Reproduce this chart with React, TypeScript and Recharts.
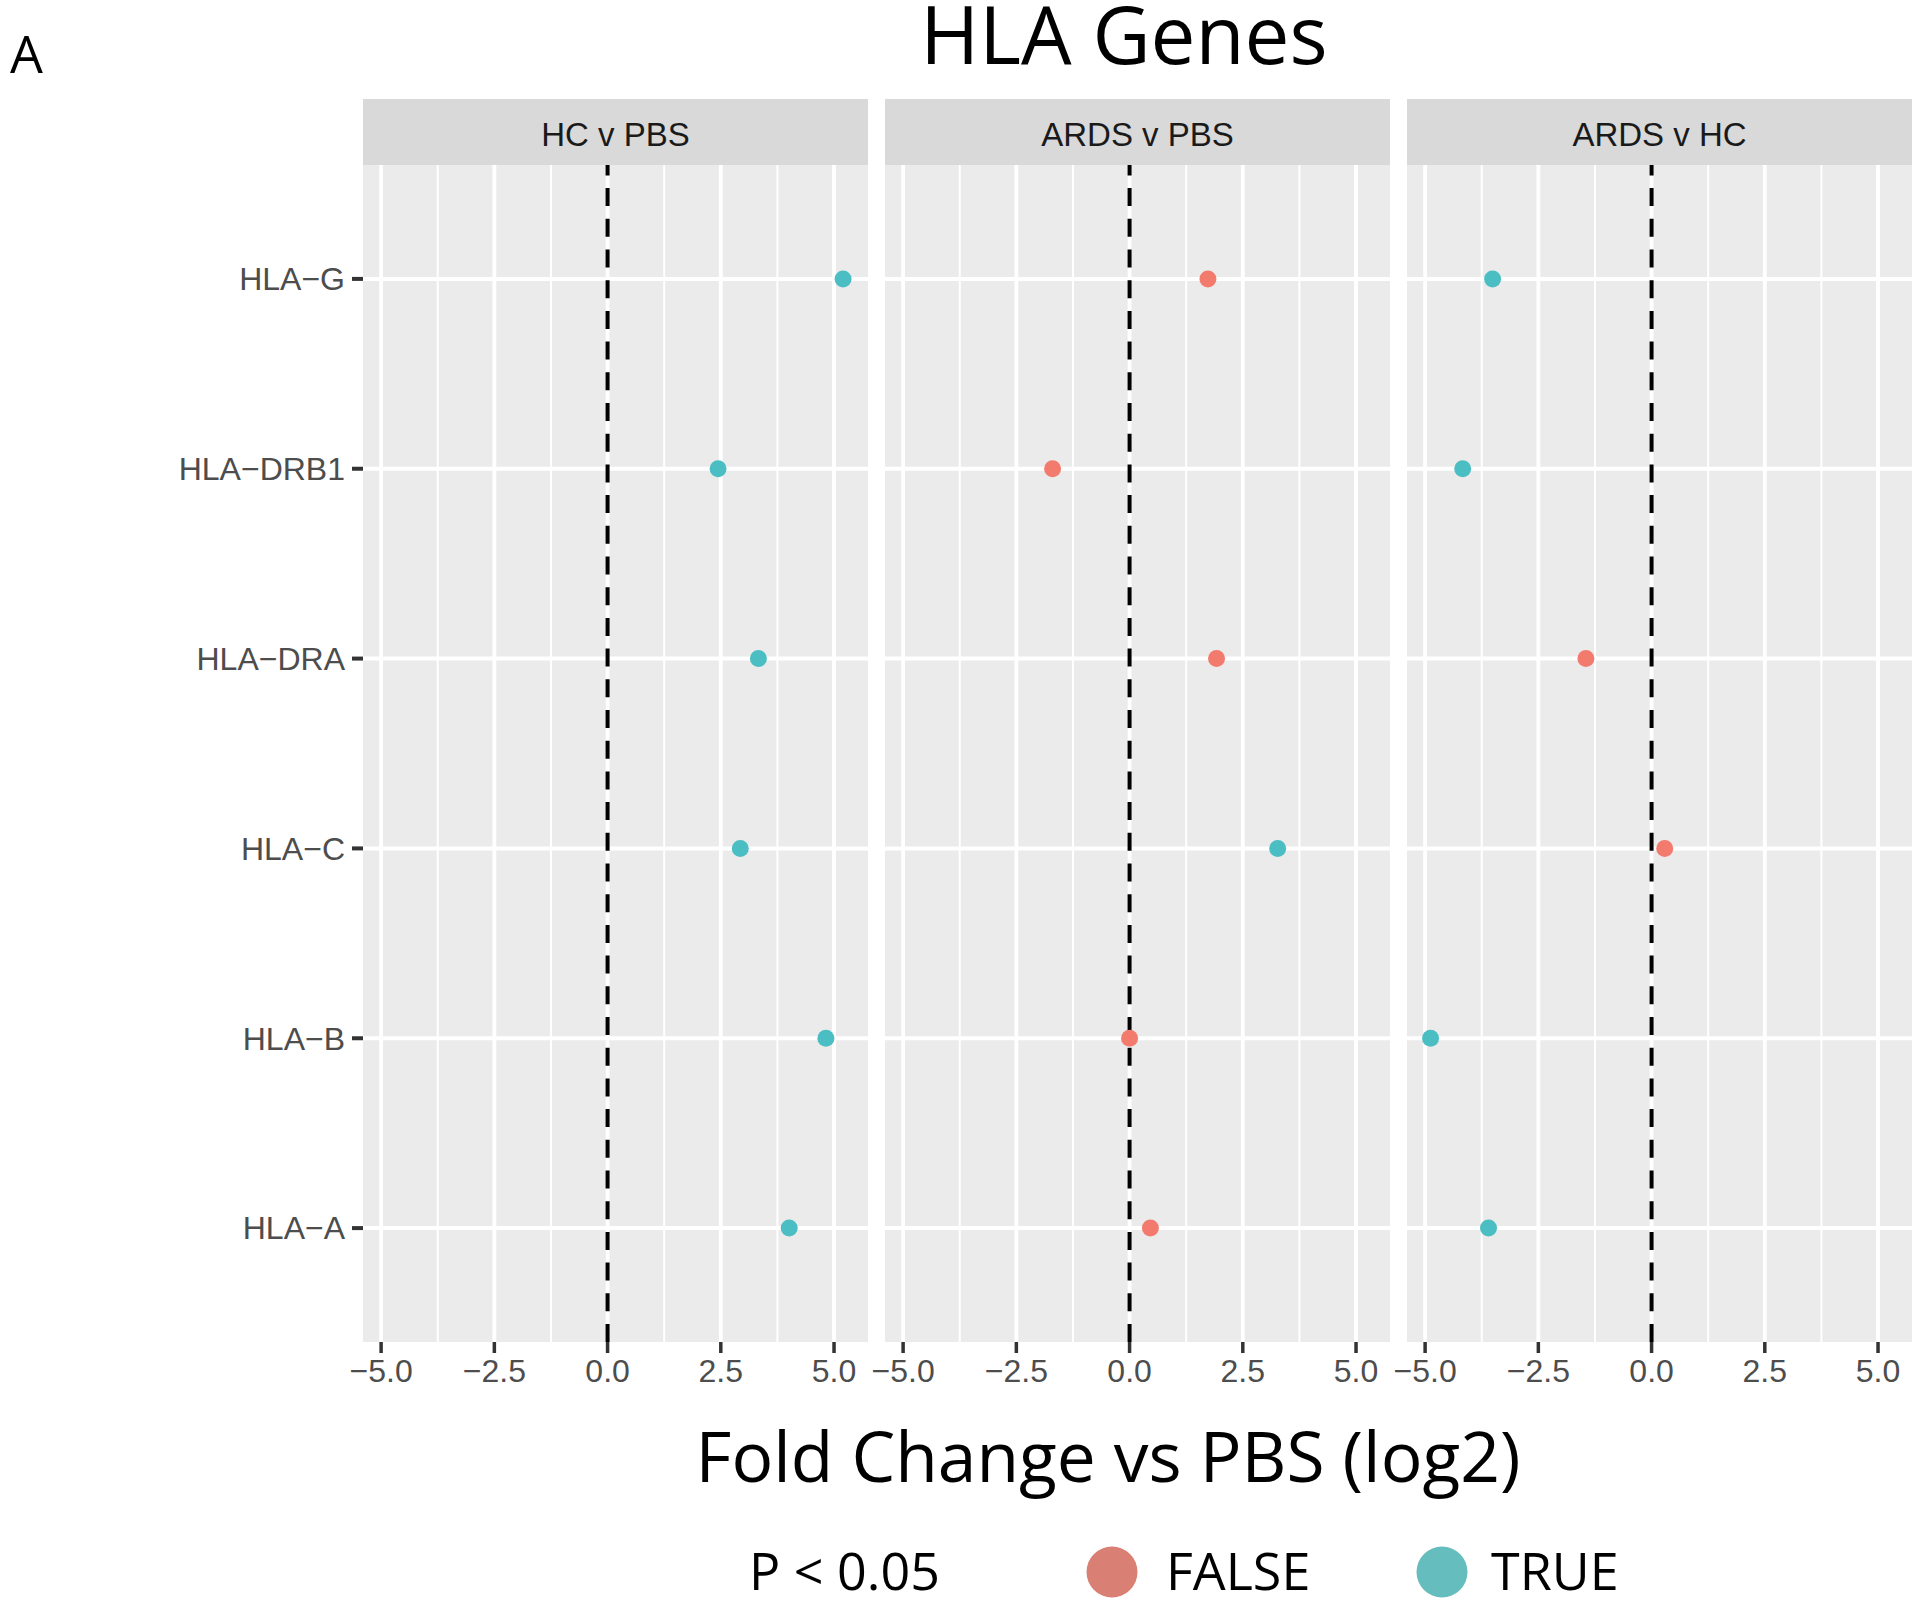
import React from 'react';
import {
  ScatterChart, Scatter, XAxis, YAxis, CartesianGrid, ReferenceLine,
} from 'recharts';

// genes listed bottom to top, as on the y axis
const genes = ['HLA-A', 'HLA-B', 'HLA-C', 'HLA-DRA', 'HLA-DRB1', 'HLA-G'];
const comparisons = ['HC v PBS', 'ARDS v PBS', 'ARDS v HC'];

const hcVsPbs = [4.01, 4.82, 2.93, 3.33, 2.44, 5.2];
const ardsVsPbs = [0.46, 0.0, 3.27, 1.92, -1.7, 1.73];
const ardsVsHc = [-3.6, -4.88, 0.29, -1.45, -4.17, -3.51];

const hcVsPbsSig = [true, true, true, true, true, true];
const ardsVsPbsSig = [false, false, true, false, false, false];
const ardsVsHcSig = [true, true, false, false, true, true];

const majorTicks = [-5, -2.5, 0, 2.5, 5];
const minorTicks = [-3.75, -1.25, 1.25, 3.75];
const geneTicks = [1, 2, 3, 4, 5, 6];

const panelValues = [hcVsPbs, ardsVsPbs, ardsVsHc];
const panelSig = [hcVsPbsSig, ardsVsPbsSig, ardsVsHcSig];

const FALSE_COL = '#F27B6E';
const TRUE_COL = '#4BBEC3';

const PANEL_W = 505;
const PANEL_TOP = 165;
const PANEL_H = 1177;
const AXIS_H = 80;
const Y_AXIS_W = 363;
const PAD = 16; // room for the first tick label of panels 2 and 3
const panelLefts = [363, 885, 1407];

const tickFont = {
  fill: '#4D4D4D',
  fontSize: 32,
  fontFamily: '"Liberation Sans", Arial, sans-serif',
};

const minus = (s: string) => s.replace(/-/g, '\u2212');

function Dot(props: any) {
  const { cx, cy, fill } = props;
  if (cx == null || cy == null) return null;
  return <circle cx={cx} cy={cy} r={8.5} fill={fill} />;
}

function Panel({ index }: { index: number }) {
  const rows = genes.map((g, i) => ({
    gene: g,
    pos: i + 1,
    fc: panelValues[index][i],
    sig: panelSig[index][i],
  }));
  const first = index === 0;
  const width = first ? Y_AXIS_W + PANEL_W : PANEL_W + PAD;
  const left = first ? 0 : panelLefts[index] - PAD;

  return (
    <div style={{ position: 'absolute', left, top: PANEL_TOP }}>
      <ScatterChart
        width={width}
        height={PANEL_H + AXIS_H}
        margin={{ top: 0, right: 0, bottom: 0, left: first ? 0 : PAD }}
        style={{ overflow: 'visible' }}
      >
        <CartesianGrid horizontal={false} vertical={false} fill="#EBEBEB" fillOpacity={1} />
        <XAxis
          type="number"
          dataKey="fc"
          domain={[-5.4, 5.75]}
          ticks={majorTicks}
          allowDataOverflow
          tickFormatter={(v: number) => minus(v.toFixed(1))}
          tick={tickFont}
          tickSize={11}
          tickMargin={6}
          height={AXIS_H}
          axisLine={false}
          tickLine={{ stroke: '#333333', strokeWidth: 3.5 }}
          interval={0}
        />
        <YAxis
          type="number"
          dataKey="pos"
          domain={[0.4, 6.6]}
          ticks={geneTicks}
          allowDataOverflow
          hide={!first}
          width={first ? Y_AXIS_W : 0}
          tickFormatter={(v: number) => minus(genes[v - 1] ?? '')}
          tick={tickFont}
          tickSize={11}
          tickMargin={7}
          axisLine={false}
          tickLine={{ stroke: '#333333', strokeWidth: 4 }}
          interval={0}
        />
        {minorTicks.map((t) => (
          <ReferenceLine key={'mi' + t} x={t} stroke="#FFFFFF" strokeWidth={2} />
        ))}
        {majorTicks.map((t) => (
          <ReferenceLine key={'ma' + t} x={t} stroke="#FFFFFF" strokeWidth={3.8} />
        ))}
        {geneTicks.map((t) => (
          <ReferenceLine key={'g' + t} y={t} stroke="#FFFFFF" strokeWidth={4} />
        ))}
        <ReferenceLine x={0} stroke="#000000" strokeWidth={4} strokeDasharray="18 12.7" />
        <Scatter
          name="FALSE"
          data={rows.filter((r) => !r.sig)}
          fill={FALSE_COL}
          shape={<Dot />}
          isAnimationActive={false}
        />
        <Scatter
          name="TRUE"
          data={rows.filter((r) => r.sig)}
          fill={TRUE_COL}
          shape={<Dot />}
          isAnimationActive={false}
        />
      </ScatterChart>
    </div>
  );
}

export default function App() {
  const openSans = '"Open Sans", "Noto Sans", sans-serif';
  return (
    <div
      style={{
        position: 'absolute',
        left: 0,
        top: 0,
        width: 1920,
        height: 1607,
        background: '#FFFFFF',
      }}
    >
      {comparisons.map((c, i) => (
        <Panel key={c} index={i} />
      ))}
      <svg
        width={1920}
        height={1607}
        style={{ position: 'absolute', left: 0, top: 0, pointerEvents: 'none' }}
      >
        <text x={10} y={73} fontSize={52} fontFamily={openSans} fill="#000">A</text>
        <text x={1124} y={64} fontSize={80} fontFamily={openSans} fill="#000" textAnchor="middle">
          HLA Genes
        </text>
        {comparisons.map((c, i) => (
          <g key={c}>
            <rect x={panelLefts[i]} y={99} width={PANEL_W} height={66} fill="#D9D9D9" />
            <text
              x={panelLefts[i] + PANEL_W / 2}
              y={145.5}
              fontSize={33}
              fontFamily='"Liberation Sans", Arial, sans-serif'
              fill="#1A1A1A"
              textAnchor="middle"
            >
              {c}
            </text>
          </g>
        ))}
        <text x={1108} y={1482} fontSize={69.5} fontFamily={openSans} fill="#000" textAnchor="middle">
          Fold Change vs PBS (log2)
        </text>
        <text x={749} y={1590} fontSize={52} fontFamily={openSans} fill="#000">P &lt; 0.05</text>
        <circle cx={1112} cy={1572} r={25.5} fill="#DA7F73" />
        <text x={1166} y={1590} fontSize={52} fontFamily={openSans} fill="#000">FALSE</text>
        <circle cx={1442} cy={1572} r={25.5} fill="#66BDBD" />
        <text x={1491} y={1590} fontSize={52} fontFamily={openSans} fill="#000">TRUE</text>
      </svg>
    </div>
  );
}
